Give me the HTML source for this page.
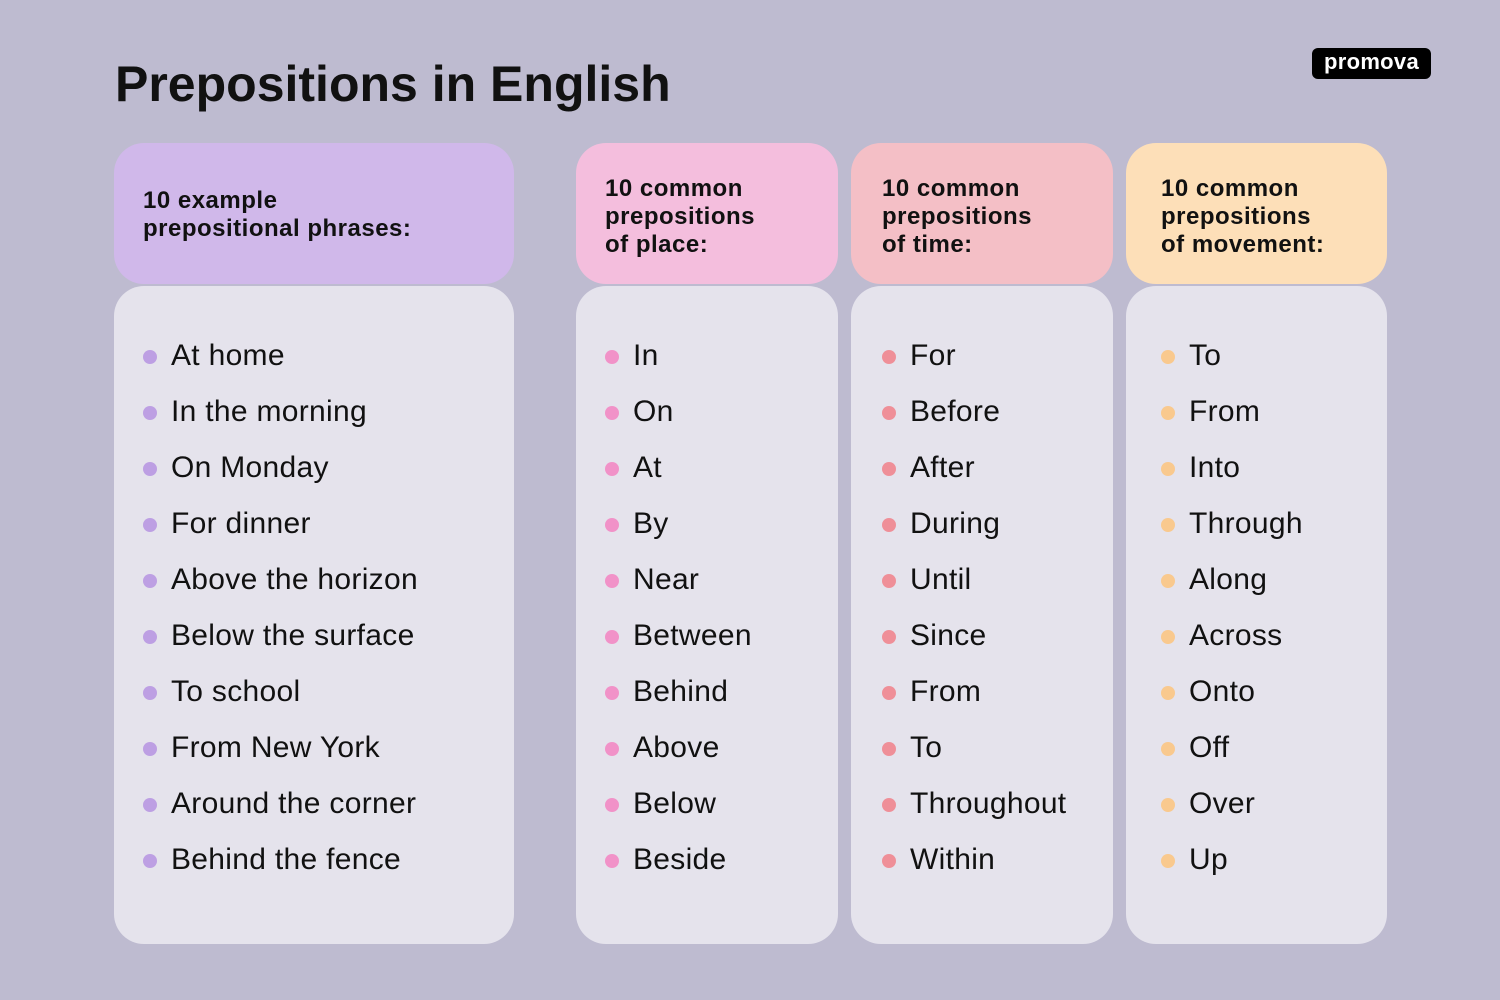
<!DOCTYPE html>
<html><head><meta charset="utf-8"><style>
*{margin:0;padding:0;box-sizing:border-box}
body{width:1500px;height:1000px;background:#bebbd0;font-family:"Liberation Sans",sans-serif;position:relative;overflow:hidden;color:#111}
.title{position:absolute;left:115px;top:55px;font-size:50px;font-weight:bold}
.logo{position:absolute;left:1312px;top:48px;width:119px;height:31px;background:#000;border-radius:6px;color:#fff;font-weight:bold;font-size:22px;text-align:center;line-height:28px;letter-spacing:0.3px}
.h{position:absolute;top:143px;height:141px;border-radius:30px;font-weight:bold;font-size:24px;line-height:28px;padding-left:29px;letter-spacing:0.5px;white-space:nowrap}
.b{position:absolute;top:286px;height:658px;border-radius:30px;background:#e5e3ec}
.it{position:absolute;font-size:30px;line-height:34px;white-space:nowrap;letter-spacing:0.3px}
.it i{position:absolute;left:-28px;top:11px;width:14px;height:14px;border-radius:50%}
</style></head><body>
<div class="title">Prepositions in English</div>
<div class="logo">promova</div>

<div class="h" style="left:114px;width:400px;background:#d0b8ea;padding-top:44px">10 example<br>prepositional phrases:</div>
<div class="h" style="left:576px;width:262px;background:#f4bedd;padding-top:32px">10 common<br>prepositions<br>of place:</div>
<div class="h" style="left:851px;width:262px;background:#f4bfc6;padding-top:32px;padding-left:31px">10 common<br>prepositions<br>of time:</div>
<div class="h" style="left:1126px;width:261px;background:#fddfb8;padding-top:32px;padding-left:35px">10 common<br>prepositions<br>of movement:</div>

<div class="b" style="left:114px;width:400px"></div>
<div class="b" style="left:576px;width:262px"></div>
<div class="b" style="left:851px;width:262px"></div>
<div class="b" style="left:1126px;width:261px"></div>

<div id="c"></div>
<script>
var cols=[[171,"#bd9fe3",["At home","In the morning","On Monday","For dinner","Above the horizon","Below the surface","To school","From New York","Around the corner","Behind the fence"]],
[633,"#f192c8",["In","On","At","By","Near","Between","Behind","Above","Below","Beside"]],
[910,"#ef8f98",["For","Before","After","During","Until","Since","From","To","Throughout","Within"]],
[1189,"#f9c98e",["To","From","Into","Through","Along","Across","Onto","Off","Over","Up"]]];
var h="";
cols.forEach(function(c){c[2].forEach(function(t,i){h+='<div class="it" style="left:'+c[0]+'px;top:'+(339+56*i)+'px"><i style="background:'+c[1]+'"></i>'+t+'</div>';});});
document.getElementById("c").innerHTML=h;
</script>
</body></html>
